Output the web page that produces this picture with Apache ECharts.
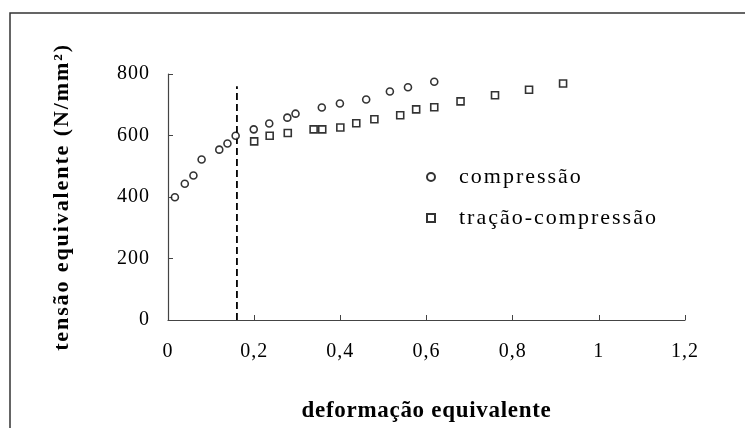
<!DOCTYPE html>
<html>
<head>
<meta charset="utf-8">
<script src="https://cdn.jsdelivr.net/npm/echarts@6/dist/echarts.min.js"></script>
<style>
  html, body { margin: 0; padding: 0; background: #fff; }
  #chart { width: 745px; height: 428px; }
</style>
</head>
<body>
<div id="chart"></div>
<script>
// deformação equivalente (x) / tensão equivalente (y)
const compX = [0.016, 0.039, 0.059, 0.078, 0.119, 0.138, 0.157, 0.199, 0.235, 0.277, 0.296, 0.357, 0.399, 0.460, 0.515, 0.557, 0.618];
const compY = [399, 443, 470, 522, 554, 574, 599, 620, 639, 658, 671, 691, 704, 717, 743, 757, 775];
const tcX = [0.200, 0.236, 0.278, 0.338, 0.358, 0.400, 0.437, 0.479, 0.539, 0.576, 0.618, 0.679, 0.759, 0.838, 0.917];
const tcY = [581, 599, 608, 620, 620, 626, 640, 653, 666, 685, 692, 711, 731, 749, 769];
const dashX = [0.16, 0.16];
const dashY = [0, 760];
const xTickLabels = ['0', '0,2', '0,4', '0,6', '0,8', '1', '1,2'];
const yTickLabels = ['0', '200', '400', '600', '800'];
const seriesNames = ['compressão', 'tração-compressão'];

// The original figure's text is set with wide character spacing; reproduce it
// when the canvas draws each text (keyed by weight + font size).
const spacingByFont = { 'normal 20': '1px', 'normal 22': '2px', 'bold 23': '0.7px', 'bold 22': '1.9px' };
const origFillText = CanvasRenderingContext2D.prototype.fillText;
CanvasRenderingContext2D.prototype.fillText = function (t, x, y, w) {
  const f = this.font || '';
  const m = f.match(/(\d+(?:\.\d+)?)px/);
  const key = (/bold|700/.test(f) ? 'bold ' : 'normal ') + (m ? Math.round(parseFloat(m[1])) : '');
  this.letterSpacing = spacingByFont[key] || '0px';
  return w === undefined ? origFillText.call(this, t, x, y) : origFillText.call(this, t, x, y, w);
};

const pairs = (xs, ys) => xs.map((x, i) => [x, ys[i]]);
const serif = 'Liberation Serif';

const chart = echarts.init(document.getElementById('chart'), null, { renderer: 'canvas' });
chart.setOption({
  animation: false,
  backgroundColor: '#fff',
  graphic: [{
    type: 'rect',
    shape: { x: 10, y: 13, width: 1200, height: 900 },
    style: { fill: 'none', stroke: '#333', lineWidth: 1.5 },
    silent: true
  }],
  grid: { left: 168, right: 60, top: 74, bottom: 108 },
  legend: {
    orient: 'vertical',
    left: 421,
    top: 161,
    itemWidth: 8,
    itemHeight: 8,
    itemGap: 19,
    data: seriesNames,
    textStyle: { fontFamily: serif, fontSize: 22, color: '#000', lineHeight: 20, padding: [0, 0, 0, 19] }
  },
  xAxis: {
    type: 'value',
    min: 0, max: 1.2, interval: 0.2,
    name: 'deformação equivalente',
    nameLocation: 'middle',
    nameGap: 80,
    nameTextStyle: { fontFamily: serif, fontSize: 23, fontWeight: 'bold', color: '#000' },
    axisLine: { show: true, lineStyle: { color: '#444', width: 1.2 } },
    axisTick: { show: true, inside: true, length: 5, lineStyle: { color: '#444' } },
    axisLabel: {
      margin: 22, fontFamily: serif, fontSize: 20, color: '#000',
      formatter: (v, i) => xTickLabels[i]
    },
    splitLine: { show: false }
  },
  yAxis: {
    type: 'value',
    min: 0, max: 800, interval: 200,
    name: 'tensão equivalente (N/mm²)',
    nameLocation: 'middle',
    nameGap: 95,
    nameTextStyle: { fontFamily: serif, fontSize: 22, fontWeight: 'bold', color: '#000' },
    axisLine: { show: true, lineStyle: { color: '#444', width: 1.2 } },
    axisTick: { show: true, inside: true, length: 5, lineStyle: { color: '#444' } },
    axisLabel: {
      margin: 18, fontFamily: serif, fontSize: 20, color: '#000',
      formatter: (v, i) => yTickLabels[i]
    },
    splitLine: { show: false }
  },
  series: [
    {
      name: seriesNames[0],
      type: 'scatter',
      symbol: 'circle',
      symbolSize: 7,
      itemStyle: { color: '#fff', borderColor: '#000', borderWidth: 1.6 },
      data: pairs(compX, compY),
      z: 3
    },
    {
      name: seriesNames[1],
      type: 'scatter',
      symbol: 'rect',
      symbolSize: 7,
      itemStyle: { color: '#fff', borderColor: '#000', borderWidth: 1.6 },
      data: pairs(tcX, tcY),
      z: 3
    },
    {
      name: 'limite',
      type: 'line',
      data: pairs(dashX, dashY),
      symbol: 'none',
      lineStyle: { color: '#000', width: 1.8, type: [7, 4] },
      silent: true,
      z: 2
    }
  ]
});
</script>
</body>
</html>
